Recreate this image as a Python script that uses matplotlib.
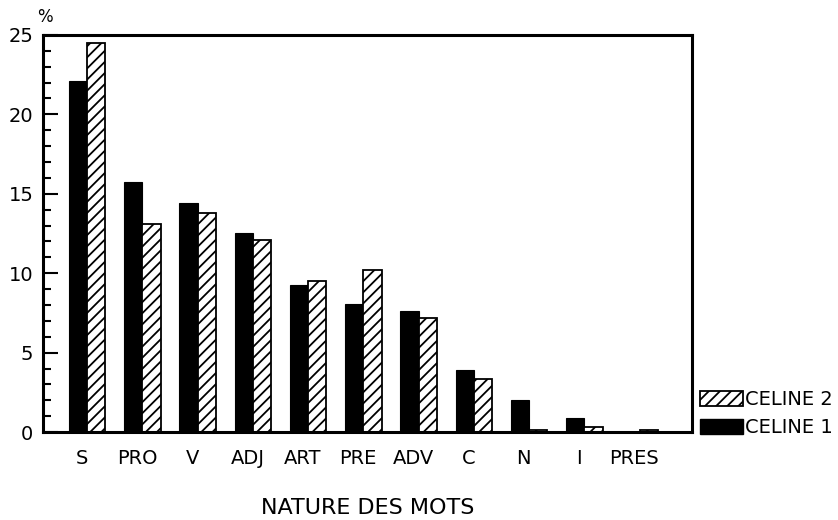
import numpy as np
import matplotlib
matplotlib.use("Agg")
import matplotlib.pyplot as plt
from matplotlib.patches import Patch

# nature des mots et pourcentages
categories = ["S", "PRO", "V", "ADJ", "ART", "PRE", "ADV", "C", "N", "I", "PRES"]
celine1 = [22.1, 15.75, 14.4, 12.5, 9.25, 8.05, 7.6, 3.9, 2.0, 0.9, 0.0]
celine2 = [24.5, 13.1, 13.8, 12.1, 9.5, 10.2, 7.2, 3.35, 0.15, 0.35, 0.15]

plt.rcParams['font.family'] = ['DejaVu Sans']
plt.rcParams['hatch.linewidth'] = 1.3

fig = plt.figure(figsize=(8.38, 5.2), dpi=100)
ax = fig.add_axes([0.0513, 0.169, 0.7745, 0.764])

x = np.arange(len(categories))
w = 0.33
ax.bar(x - w/2, celine1, width=w, color="black", edgecolor="black", linewidth=0.8)
ax.bar(x + w/2, celine2, width=w, color="white", edgecolor="black", hatch="///", linewidth=1.3)

ax.set_xlim(-0.8, 10.95)
ax.set_ylim(0, 25)

for s in ax.spines.values():
    s.set_linewidth(2.2)

ax.set_yticks(np.arange(0, 26, 5))
ax.set_yticks(np.arange(0, 26, 1), minor=True)
ax.tick_params(axis="y", which="major", direction="in", length=11, width=1.5, labelsize=14, pad=7)
ax.tick_params(axis="y", which="minor", direction="in", length=6, width=1.5)

ax.set_xticks(x - 0.1)
ax.set_xticklabels(categories)
ax.tick_params(axis="x", length=0, labelsize=14, pad=12)

ax.set_xlabel("NATURE DES MOTS", fontsize=16, labelpad=22)
fig.text(0.054, 0.985, "%", fontsize=12, ha="center", va="top")

handles = [Patch(facecolor="white", edgecolor="black", hatch="///", linewidth=1.3),
           Patch(facecolor="black", edgecolor="black")]
fig.legend(handles, ["CELINE 2", "CELINE 1"], loc="lower left",
           bbox_to_anchor=(0.826, 0.145), frameon=False, fontsize=14,
           handlelength=2.2, handleheight=0.8, handletextpad=0.1,
           borderaxespad=0, labelspacing=0.45)

fig.savefig("out.png", dpi=100)
